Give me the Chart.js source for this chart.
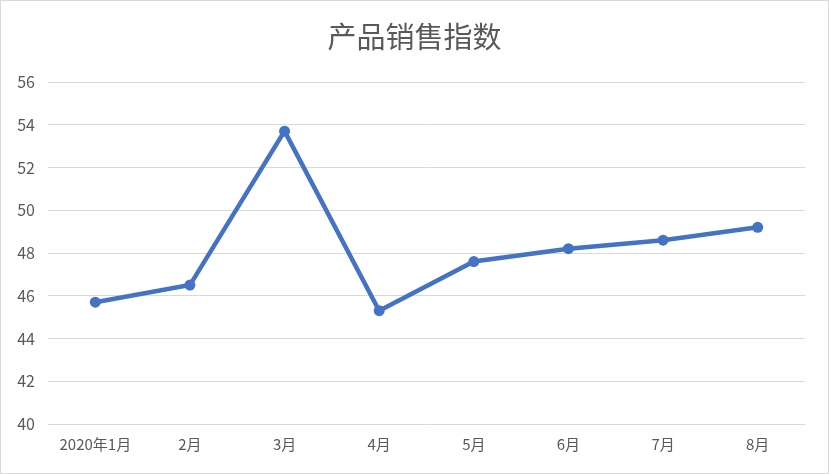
<!DOCTYPE html>
<html>
<head>
<meta charset="utf-8">
<script src="https://cdn.jsdelivr.net/npm/chart.js@4/dist/chart.umd.min.js"></script>
<style>
html,body{margin:0;padding:0;background:#fff;}
#wrap{width:829px;height:474px;}
</style>
</head>
<body>
<div id="wrap"><canvas id="c" width="829" height="474"></canvas></div>
<script>
const title = '产品销售指数';
const categories = ['2020年1月','2月','3月','4月','5月','6月','7月','8月'];
const salesIndex = [45.7, 46.5, 53.7, 45.3, 47.6, 48.2, 48.6, 49.2];
const yMin = 40, yMax = 56, yStep = 2;

const borderPlugin = {
  id: 'outerBorder',
  afterDraw(chart) {
    const ctx = chart.ctx;
    ctx.save();
    ctx.strokeStyle = '#d9d9d9';
    ctx.lineWidth = 1;
    ctx.strokeRect(0.5, 0.5, chart.width - 1, chart.height - 1);
    ctx.restore();
  }
};
const bgPlugin = {
  id: 'bg',
  beforeDraw(chart) {
    const ctx = chart.ctx;
    ctx.save();
    ctx.fillStyle = '#fff';
    ctx.fillRect(0, 0, chart.width, chart.height);
    ctx.restore();
  }
};
const titlePlugin = {
  id: 'centerTitle',
  afterDraw(chart) {
    const ctx = chart.ctx;
    ctx.save();
    ctx.fillStyle = '#595959';
    ctx.font = '29px "Noto Sans CJK SC", sans-serif';
    ctx.textAlign = 'center';
    ctx.textBaseline = 'middle';
    ctx.fillText(title, chart.width / 2, 37);
    ctx.restore();
  }
};

new Chart(document.getElementById('c'), {
  type: 'line',
  data: {
    labels: categories,
    datasets: [{
      label: title,
      data: salesIndex,
      borderColor: '#4472C4',
      backgroundColor: '#4472C4',
      borderWidth: 4.5,
      pointRadius: 5.5,
      pointHoverRadius: 5.5,
      pointBackgroundColor: '#4472C4',
      pointBorderWidth: 0,
      tension: 0,
      fill: false
    }]
  },
  options: {
    responsive: false,
    animation: false,
    devicePixelRatio: 1,
    layout: { padding: { left: 0, right: 24, top: 82, bottom: 0 } },
    plugins: {
      legend: { display: false },
      tooltip: { enabled: false },
      title: { display: false }
    },
    scales: {
      x: {
        offset: true,
        grid: { display: false, drawTicks: false },
        border: { display: false },
        ticks: {
          color: '#595959',
          font: { family: '"Noto Sans CJK SC", sans-serif', size: 15 },
          padding: 11,
          maxRotation: 0,
          autoSkip: false
        },
        afterFit(axis) { axis.height = 50; }
      },
      y: {
        min: yMin,
        max: yMax,
        grid: { color: '#d9d9d9', lineWidth: 1, drawTicks: false },
        border: { display: false },
        ticks: {
          stepSize: yStep,
          color: '#595959',
          font: { family: '"Noto Sans CJK SC", sans-serif', size: 16 },
          padding: 13
        },
        afterFit(axis) { axis.width = 48; }
      }
    }
  },
  plugins: [bgPlugin, borderPlugin, titlePlugin]
});
</script>
</body>
</html>
